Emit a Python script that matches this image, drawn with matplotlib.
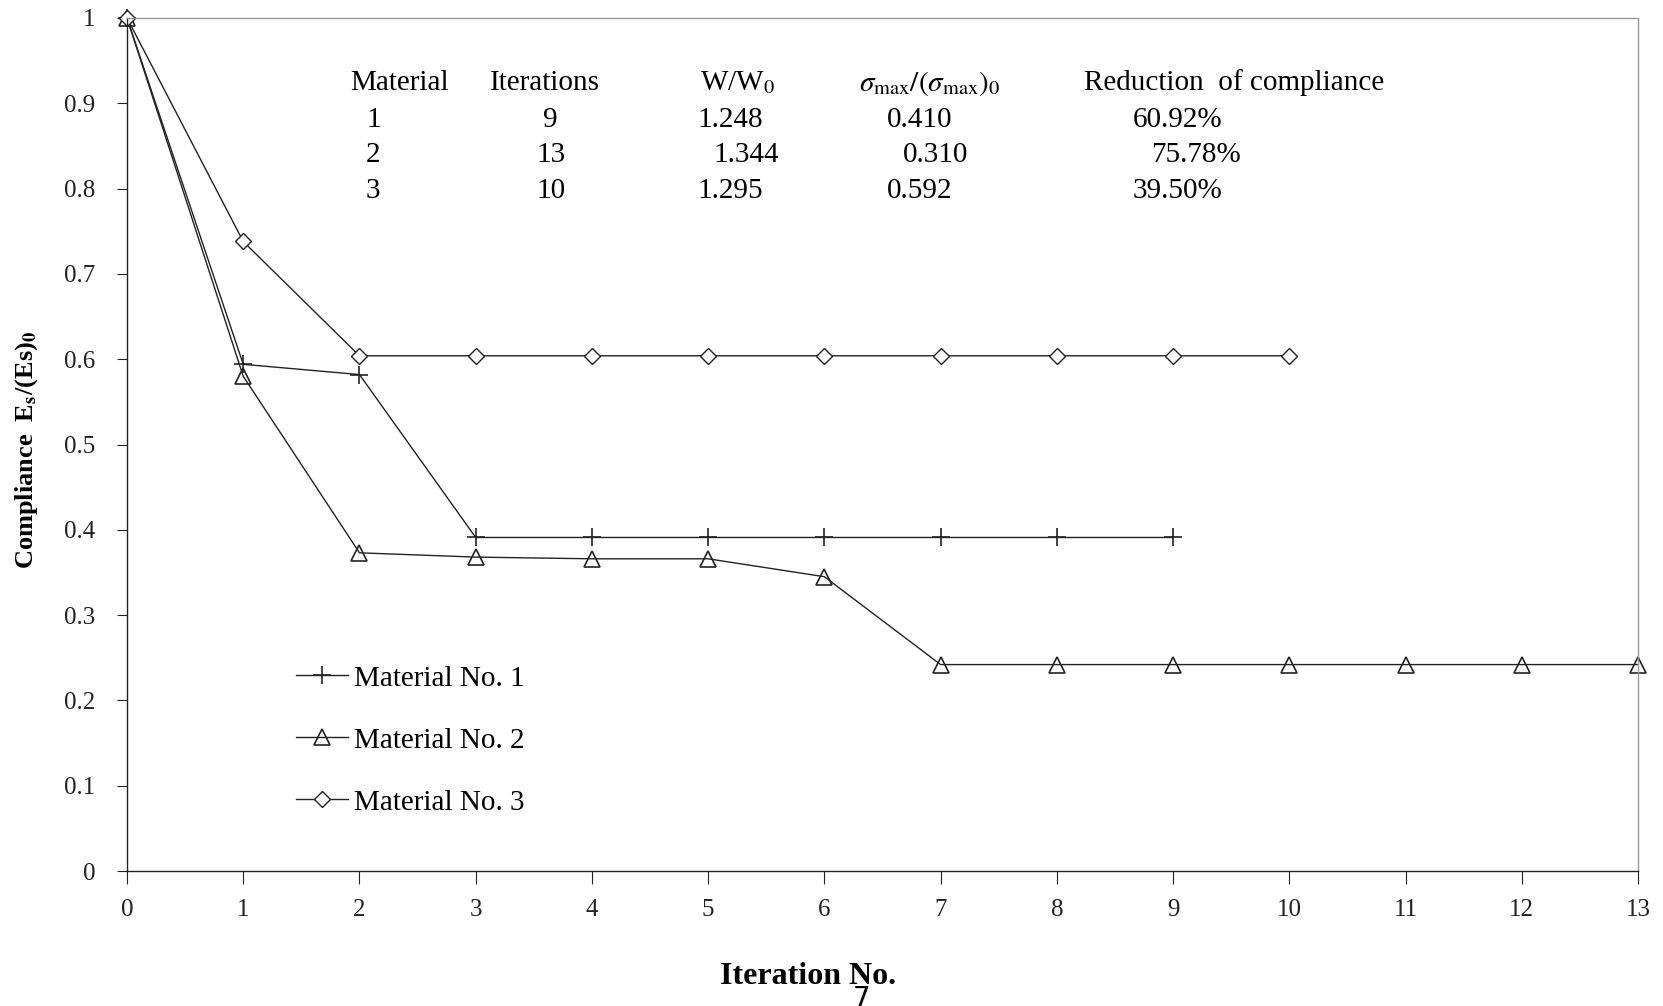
import matplotlib.pyplot as plt

# Данные
iters_1 = [0, 1, 2, 3, 4, 5, 6, 7, 8, 9]
comp_1 = [1.0, 0.594, 0.582, 0.391, 0.391, 0.391, 0.391, 0.391, 0.391, 0.391]

iters_2 = [0, 1, 2, 3, 4, 5, 6, 7, 8, 9, 10, 11, 12, 13]
comp_2 = [1.0, 0.580, 0.373, 0.368, 0.366, 0.366, 0.345, 0.242, 0.242, 0.242,
          0.242, 0.242, 0.242, 0.242]

iters_3 = [0, 1, 2, 3, 4, 5, 6, 7, 8, 9, 10]
comp_3 = [1.0, 0.738, 0.604, 0.604, 0.604, 0.604, 0.604, 0.604, 0.604, 0.604, 0.604]

labels = ['Material No. 1', 'Material No. 2', 'Material No. 3']
x_ticks = list(range(0, 14))
y_ticks = [0, 0.1, 0.2, 0.3, 0.4, 0.5, 0.6, 0.7, 0.8, 0.9, 1.0]
y_tick_labels = ['0', '0.1', '0.2', '0.3', '0.4', '0.5', '0.6', '0.7', '0.8', '0.9', '1']

# Таблица в верхней части графика
table_header = ['Material', 'Iterations', r'W/W$_0$',
                r'$\sigma_{\rm max}/(\sigma_{\rm max})_0$', 'Reduction  of compliance']
table_rows = [['1', '9', '1.248', '0.410', '60.92%'],
              ['2', '13', '1.344', '0.310', '75.78%'],
              ['3', '10', '1.295', '0.592', '39.50%']]

plt.rcParams['font.family'] = ['Liberation Serif', 'DejaVu Serif']
plt.rcParams['mathtext.fontset'] = 'stix'

W, H = 1663, 1006
fig = plt.figure(figsize=(W / 100, H / 100), dpi=100)
ax = fig.add_axes([127 / W, 1 - 871 / H, (1638 - 127) / W, (871 - 18) / H])

lc = '#222222'
ax.plot(iters_1, comp_1, color=lc, lw=1.0, marker='+', ms=13, mew=1.2,
        label=labels[0])
ax.plot(iters_2, comp_2, color=lc, lw=1.0, marker='^', ms=11, mew=1.2,
        mfc='none', label=labels[1])
ax.plot(iters_3, comp_3, color=lc, lw=1.0, marker='D', ms=8, mew=1.0,
        mfc='white', label=labels[2])

ax.set_xlim(0, 13)
ax.set_ylim(0, 1)
ax.set_xticks(x_ticks)
ax.set_yticks(y_ticks)
ax.set_yticklabels(y_tick_labels)
ax.tick_params(axis='both', labelsize=18, direction='out', color='#222222',
               labelcolor='#222222')
ax.tick_params(axis='y', length=7, pad=16)
ax.tick_params(axis='x', length=9, pad=11)
for s in ['left', 'bottom']:
    ax.spines[s].set_color('#222222')
    ax.spines[s].set_linewidth(1.0)
for s in ['top', 'right']:
    ax.spines[s].set_color('#999999')
    ax.spines[s].set_linewidth(1.0)
for ln in ax.lines:
    ln.set_clip_on(False)

leg = ax.legend(loc='center left', bbox_to_anchor=(0.104, 0.153), frameon=False,
                fontsize=21, handlelength=1.8, handletextpad=0.2,
                labelspacing=1.22, borderaxespad=0)

# Положение ячеек таблицы (пиксели исходного рисунка)
head_x = [350, 490, 700, 859, 1084]
row_x = [[366, 543, 697, 887, 1133],
         [366, 536, 713, 903, 1151],
         [366, 536, 697, 887, 1133]]
head_y = 83
row_y = [120, 155, 191]

for txt, x in zip(table_header, head_x):
    fig.text(x / W, 1 - head_y / H, txt, fontsize=21, ha='left', va='center')
for row, xs, y in zip(table_rows, row_x, row_y):
    for txt, x in zip(row, xs):
        fig.text(x / W, 1 - y / H, txt, fontsize=21, ha='left', va='center')

fig.text(27 / W, 1 - 450 / H, r'Compliance  E$_\mathbf{s}$/(Es)$_\mathbf{0}$',
         fontsize=19, fontweight='bold', rotation=90, ha='center', va='center')
fig.text(808 / W, 1 - 977 / H, 'Iteration No.', fontsize=23, fontweight='bold',
         ha='center', va='center')
fig.text(862 / W, 1 - 999 / H, '7', fontsize=20, family='DejaVu Sans',
         ha='center', va='center')

fig.savefig('out.png', dpi=100)
